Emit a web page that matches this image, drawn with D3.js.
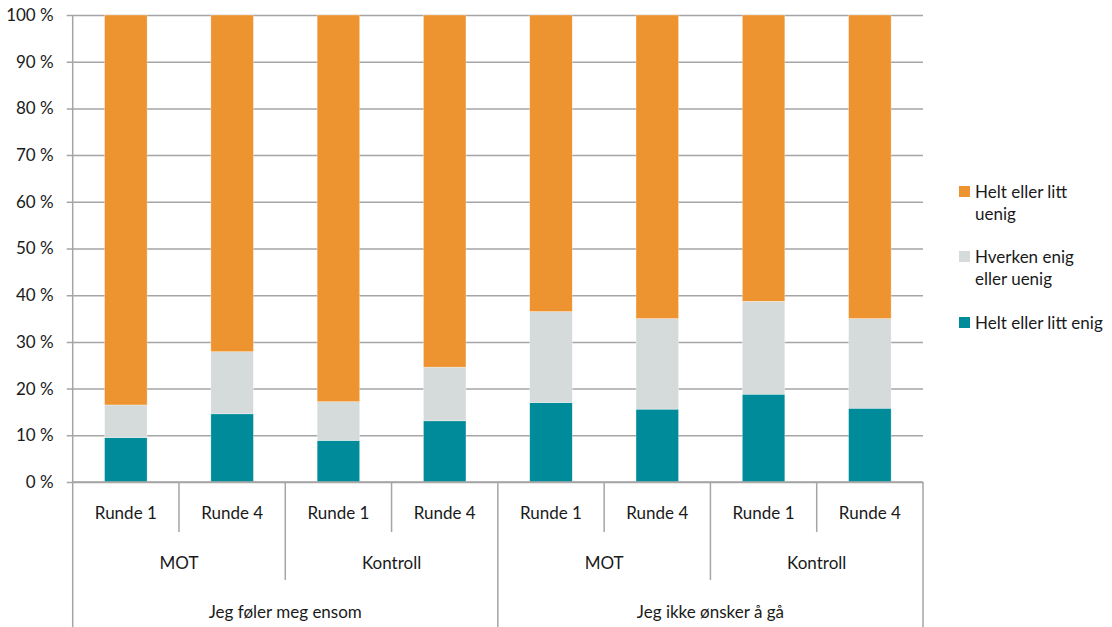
<!DOCTYPE html>
<html>
<head>
<meta charset="utf-8">
<script src="https://cdn.jsdelivr.net/npm/d3@7"></script>
<style>
body{margin:0;background:#fff;}
text{font-family:Lato,"Open Sans",sans-serif;fill:#1a1a1a;}
</style>
</head>
<body>
<svg id="chart" width="1112" height="627"></svg>
<script>
const rounds = ["Runde 1","Runde 4","Runde 1","Runde 4","Runde 1","Runde 4","Runde 1","Runde 4"];
const groups = ["MOT","Kontroll","MOT","Kontroll"];
const questions = ["Jeg føler meg ensom","Jeg ikke ønsker å gå"];
const seriesNames = ["Helt eller litt enig","Hverken enig eller uenig","Helt eller litt uenig"];
const enig = [9.5, 14.6, 8.9, 13.1, 17.0, 15.6, 18.8, 15.8];
const hverken = [7.0, 13.3, 8.3, 11.5, 19.5, 19.4, 19.9, 19.2];
const uenig = enig.map((d,i)=>100-d-hverken[i]);
const colors = ["#008B9A","#D5DBDA","#ED9330"];
const yTicks = [0,10,20,30,40,50,60,70,80,90,100];
const legendLabels = [["Helt eller litt","uenig"],["Hverken enig","eller uenig"],["Helt eller litt enig"]];

const svg = d3.select("#chart");
const mLeft = 72.7, mRight = 923, mTop = 15, mBottom = 482;
const idx = d3.range(rounds.length);
const x = d3.scaleBand().domain(idx).range([mLeft,mRight]).paddingInner(0.6).paddingOuter(0.3);
const y = d3.scaleLinear().domain([0,100]).range([mBottom,mTop]);
const gridColor = "#a5a5a5";
const fs = 17;

// gridlines
const yAxis = d3.axisLeft(y).tickValues(yTicks).tickSize(-(mRight-mLeft)).tickFormat(d=>d+" %").tickPadding(19);
const gy = svg.append("g").attr("transform",`translate(${mLeft},0)`).call(yAxis);
gy.select(".domain").remove();
gy.selectAll(".tick line").attr("stroke",gridColor).attr("stroke-width",1.5).attr("x1",-6);
gy.selectAll(".tick text").attr("font-size",fs).attr("font-family","Lato, sans-serif").attr("fill","#1a1a1a");

// stacked bars
const table = idx.map(i=>({i, enig:enig[i], hverken:hverken[i], uenig:uenig[i]}));
const stack = d3.stack().keys(["enig","hverken","uenig"])(table);
svg.append("g").selectAll("g").data(stack).join("g")
  .attr("fill",(d,k)=>colors[k])
  .selectAll("rect").data(d=>d).join("rect")
  .attr("x",d=>x(d.data.i)).attr("width",x.bandwidth())
  .attr("y",d=>y(d[1])).attr("height",d=>y(d[0])-y(d[1]))
  .attr("stroke","rgba(255,255,255,0.5)").attr("stroke-width",0.6);

// axis line
const step = (mRight-mLeft)/rounds.length;
svg.append("line").attr("x1",mLeft).attr("x2",mLeft).attr("y1",mTop).attr("y2",627).attr("stroke",gridColor).attr("stroke-width",1.5);
svg.append("line").attr("x1",mLeft).attr("x2",mRight).attr("y1",mBottom).attr("y2",mBottom).attr("stroke",gridColor).attr("stroke-width",1.5);

// category separators
for (let k=1;k<=rounds.length;k++){
  const xx = mLeft + k*step;
  let y2 = 532;
  if (k%2===0) y2 = 580;
  if (k%4===0) y2 = 627;
  svg.append("line").attr("x1",xx).attr("x2",xx).attr("y1",mBottom).attr("y2",y2).attr("stroke",gridColor).attr("stroke-width",1.5);
}
svg.append("g").selectAll("text").data(rounds).join("text")
  .attr("x",(d,i)=>mLeft+(i+0.5)*step).attr("y",519).attr("text-anchor","middle").attr("font-size",fs).text(d=>d);
svg.append("g").selectAll("text").data(groups).join("text")
  .attr("x",(d,i)=>mLeft+(i+0.5)*step*2).attr("y",569).attr("text-anchor","middle").attr("font-size",fs).text(d=>d);
svg.append("g").selectAll("text").data(questions).join("text")
  .attr("x",(d,i)=>mLeft+(i+0.5)*step*4).attr("y",618).attr("text-anchor","middle").attr("font-size",fs).text(d=>d);

// legend
const legY = [186, 251, 317];
const legColors = [colors[2],colors[1],colors[0]];
legendLabels.forEach((lines,k)=>{
  svg.append("rect").attr("x",959).attr("y",legY[k]).attr("width",11).attr("height",11).attr("fill",legColors[k]);
  lines.forEach((t,j)=>{
    svg.append("text").attr("x",975).attr("y",legY[k]+12+j*22).attr("font-size",fs).text(t);
  });
});
</script>
</body>
</html>
